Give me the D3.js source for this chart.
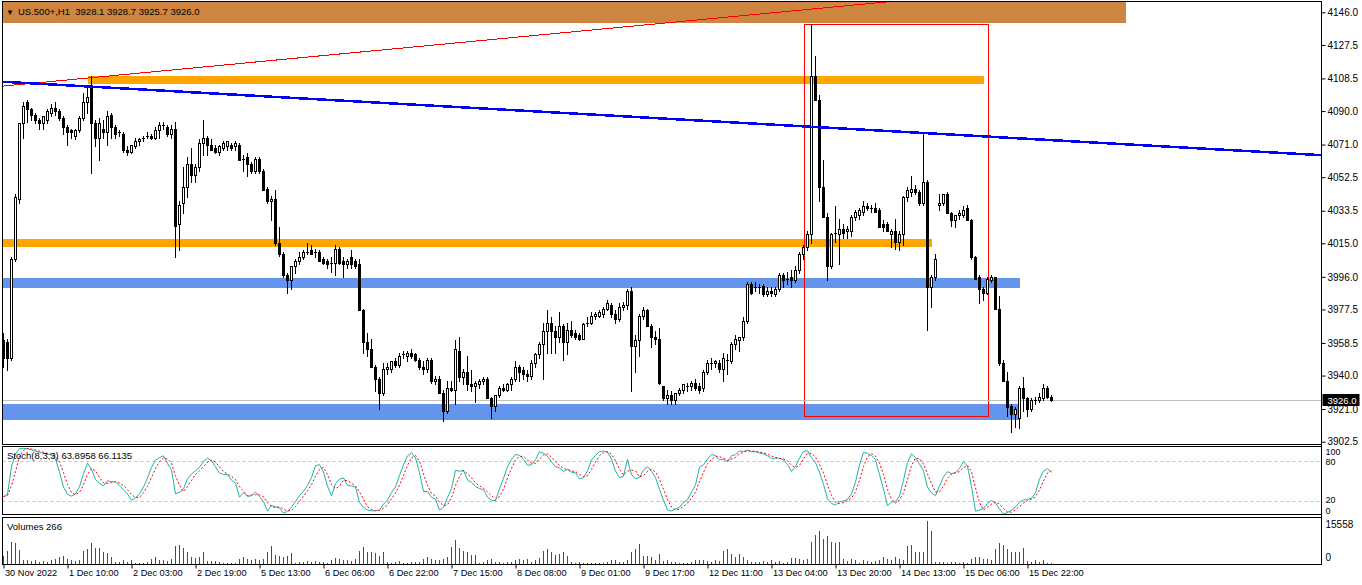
<!DOCTYPE html>
<html>
<head>
<meta charset="utf-8">
<script src="https://cdn.jsdelivr.net/npm/d3@7"></script>
<style>
html, body { margin: 0; padding: 0; background: #fff; overflow: hidden; }
svg { display: block; font-family: "Liberation Sans", Arial, sans-serif; font-size: 9.5px; }
</style>
</head>
<body>
<div id="chart"></div>
<script>
// ----- US.500+ H1, una candela per riga: [open, high, low, close]
var ohlc = [
  [3960,3964,3945,3950],[3959,3961,3943,3950],[3950,4007,3949,4006],[4006,4043,4005,4041],[4040,4083,4038,4083],[4083,4095,4075,4093],[4095,4096,4084,4091],[4091,4092,4085,4088],[4088,4089,4083,4085],[4085,4086,4080,4083],
  [4083,4087,4080,4087],[4085,4091,4083,4090],[4089,4094,4087,4092],[4092,4095,4088,4090],[4090,4091,4085,4086],[4086,4087,4077,4081],[4081,4082,4071,4078],[4079,4080,4075,4078],[4076,4080,4074,4079],[4079,4087,4078,4086],
  [4086,4100,4085,4095],[4095,4104,4089,4098],[4104,4110,4055,4083],[4083,4085,4070,4075],[4075,4086,4062,4083],[4080,4085,4075,4078],[4078,4090,4071,4087],[4088,4089,4075,4081],[4081,4082,4075,4077],[4078,4079,4076,4078],
  [4077,4078,4067,4068],[4068,4070,4065,4067],[4067,4071,4066,4071],[4070,4075,4069,4073],[4073,4075,4071,4074],[4074,4076,4073,4075],[4076,4078,4075,4076],[4076,4077,4074,4075],[4075,4081,4074,4079],[4079,4084,4075,4082],
  [4082,4084,4080,4082],[4081,4082,4076,4077],[4077,4082,4075,4080],[4080,4084,4007,4025],[4026,4039,4011,4037],[4038,4058,4032,4047],[4047,4064,4041,4060],[4060,4069,4050,4054],[4054,4060,4050,4058],[4058,4074,4056,4072],
  [4072,4085,4065,4075],[4075,4076,4065,4071],[4071,4074,4068,4068],[4069,4071,4066,4067],[4067,4071,4065,4070],[4069,4073,4068,4072],[4070,4073,4068,4073],[4071,4072,4068,4069],[4070,4073,4068,4072],[4071,4072,4062,4062],
  [4063,4065,4056,4062],[4064,4066,4053,4060],[4060,4061,4055,4056],[4056,4064,4055,4063],[4063,4064,4055,4056],[4056,4057,4045,4045],[4046,4047,4038,4039],[4039,4042,4028,4040],[4040,4045,4014,4015],[4015,4024,4008,4009],
  [4009,4010,3996,3997],[3997,3998,3987,3994],[3994,4002,3989,4002],[4002,4006,3998,4005],[4005,4010,4003,4007],[4007,4011,4006,4010],[4010,4015,4009,4010],[4011,4014,4009,4009],[4010,4012,4007,4010],[4010,4011,4005,4005],
  [4006,4007,4003,4004],[4005,4006,4001,4003],[4004,4007,3999,4004],[4004,4014,3997,4012],[4012,4013,4003,4004],[4005,4007,3996,4003],[4003,4006,4001,4005],[4007,4011,4001,4003],[4005,4006,4001,4002],[4003,4006,3977,3977],
  [3977,3978,3953,3959],[3959,3964,3951,3955],[3955,3961,3945,3945],[3945,3946,3931,3938],[3938,3939,3921,3930],[3930,3947,3929,3944],[3944,3947,3941,3945],[3944,3948,3942,3948],[3948,3950,3945,3946],[3946,3953,3945,3951],
  [3952,3954,3950,3952],[3951,3954,3948,3953],[3953,3955,3950,3951],[3952,3953,3948,3949],[3949,3950,3944,3945],[3945,3948,3941,3944],[3944,3950,3942,3949],[3949,3950,3936,3937],[3937,3940,3935,3938],[3938,3940,3930,3930],
  [3930,3932,3914,3920],[3920,3937,3919,3933],[3933,3937,3931,3932],[3932,3960,3924,3955],[3954,3962,3937,3939],[3939,3944,3935,3942],[3942,3951,3932,3935],[3935,3943,3931,3934],[3934,3937,3925,3936],[3935,3938,3933,3937],
  [3937,3939,3935,3938],[3938,3939,3927,3927],[3927,3928,3916,3923],[3923,3929,3920,3929],[3929,3934,3928,3933],[3933,3935,3931,3932],[3932,3936,3931,3935],[3935,3939,3932,3938],[3938,3948,3937,3945],[3945,3946,3937,3942],
  [3943,3945,3938,3941],[3941,3943,3937,3940],[3940,3949,3938,3947],[3947,3953,3945,3952],[3952,3959,3950,3958],[3958,3970,3938,3965],[3965,3977,3953,3970],[3970,3973,3953,3965],[3965,3968,3953,3962],[3962,3976,3959,3968],
  [3968,3969,3949,3959],[3959,3970,3952,3966],[3966,3971,3962,3963],[3964,3966,3961,3962],[3963,3964,3960,3961],[3961,3970,3961,3969],[3969,3973,3968,3970],[3970,3976,3969,3974],[3974,3976,3972,3975],[3974,3977,3973,3976],
  [3975,3979,3973,3978],[3978,3983,3977,3981],[3980,3981,3973,3975],[3975,3977,3970,3972],[3972,3981,3971,3979],[3979,3982,3977,3980],[3980,3989,3978,3988],[3988,3990,3931,3957],[3957,3963,3942,3960],[3960,3975,3951,3974],
  [3974,3979,3972,3977],[3977,3978,3968,3968],[3968,3969,3956,3962],[3962,3965,3958,3961],[3961,3967,3935,3936],[3934,3934,3926,3927],[3927,3932,3924,3929],[3929,3931,3924,3926],[3926,3930,3924,3930],[3930,3933,3929,3932],
  [3932,3935,3930,3935],[3934,3936,3931,3934],[3934,3937,3932,3936],[3936,3938,3932,3933],[3934,3936,3930,3932],[3933,3943,3931,3942],[3942,3949,3941,3947],[3947,3950,3944,3947],[3947,3949,3945,3948],[3947,3949,3942,3944],
  [3944,3953,3937,3950],[3949,3952,3941,3948],[3948,3959,3947,3958],[3958,3963,3955,3961],[3960,3962,3954,3962],[3962,3973,3960,3971],[3971,3993,3970,3992],[3992,3993,3986,3987],[3990,3993,3988,3990],[3990,3992,3987,3990],
  [3991,3992,3985,3986],[3986,3990,3985,3988],[3988,3990,3985,3987],[3986,3990,3985,3989],[3989,3998,3988,3997],[3997,3998,3990,3994],[3995,3999,3992,3994],[3996,4000,3990,3994],[3994,4002,3993,4000],[4000,4010,3998,4009],
  [4009,4014,4006,4013],[4013,4022,4011,4020],[4020,4139.3,4015,4110],[4110,4121,4096,4096],[4096,4099,4039,4047],[4047,4062,4030,4030],[4030,4032,3994,4002],[4002,4021,4001,4020],[4020,4036,4016,4021],[4020,4029,4003,4023],
  [4023,4026,4018,4021],[4022,4025,4018,4023],[4022,4031,4019,4030],[4030,4034,4028,4033],[4031,4035,4029,4034],[4033,4039,4031,4036],[4036,4038,4034,4035],[4035,4037,4033,4035],[4035,4038,4033,4033],[4034,4035,4024,4024],
  [4026,4028,4022,4024],[4026,4027,4022,4022],[4020,4023,4013,4022],[4022,4029,4012,4016],[4016,4022,4011,4020],[4020,4042,4014,4041],[4041,4047,4039,4045],[4044,4053,4042,4046],[4046,4048,4043,4044],[4044,4045,4037,4038],
  [4038,4078,4037,4050],[4050,4051,3966,3990],[3990,3997,3979,3996],[3996,4009,3994,4006],[4037,4043,4034,4038],[4038,4043,4037,4043],[4043,4044,4032,4032],[4032,4033,4025,4028],[4028,4031,4024,4031],[4031,4034,4029,4032],
  [4031,4036,4030,4034],[4035,4037,4028,4028],[4028,4029,4006,4007],[4007,4008,3995,3995],[3996,3997,3981,3989],[3989,3990,3983,3987],[3987,3996,3986,3995],[3994,3997,3993,3996],[3996,3996,3978,3978],[3978,3985,3946,3947],
  [3947,3949,3937,3937],[3937,3942,3917,3922],[3923,3924,3908,3918],[3918,3922,3911,3921],[3916,3934,3910,3933],[3933,3939,3920,3927],[3927,3928,3917,3921],[3921,3927,3920,3926],[3926,3928,3924,3926],[3926,3930,3925,3928],
  [3927,3935,3926,3933],[3933,3934,3927,3928],[3928.1,3928.7,3925.7,3926.0]
];

// ----- Volumi tick per barra
var volumes = [
  3040,4730,8100,7550,4960,1350,1350,1130,1350,790,
  1130,790,1350,1690,2480,3040,1920,1350,1130,1350,
  4730,5300,7550,5860,5640,4170,3830,2480,790,900,
  1350,790,1350,450,450,500,790,1920,2480,1350,
  1350,1130,1920,6420,7000,5900,4500,2700,2200,2700,
  4170,1130,1130,1000,790,450,450,450,450,1920,
  2700,1690,1580,1920,1350,1920,4500,6420,3380,3040,
  2480,3040,3830,450,790,790,1130,790,1130,790,
  790,450,1350,2250,1920,1580,1350,1130,1920,4730,
  6090,4170,4170,3830,3040,4500,790,450,790,1000,
  450,450,790,790,790,1690,2700,1690,1350,1350,
  1920,2480,6090,8680,5860,4730,4170,3380,3380,450,
  790,1580,1920,790,790,450,790,790,1350,1690,
  1350,1920,790,1350,2250,4730,5300,4170,3380,3600,
  4400,3040,790,450,560,450,200,230,450,450,
  450,790,1350,1350,790,790,1580,4500,5300,7330,
  3040,3040,2480,1580,3600,1130,1350,790,790,450,
  450,450,790,1350,1350,1350,1000,750,1350,1000,
  4660,5280,3560,2580,3440,2580,1350,750,750,750,
  1100,750,1350,750,1100,500,750,2200,2200,1950,
  1350,1950,7860,10560,11790,9090,9950,7860,7490,7860,
  1950,1000,1700,1350,500,1350,1000,750,1000,1350,
  2480,1920,1580,2480,1920,1350,6420,6760,4500,4170,
  4170,15558,12060,790,790,790,450,790,790,450,
  790,450,1920,2700,2480,1690,1920,1350,5300,7550,
  7000,5300,4500,4170,4170,5860,1130,790,1350,790,
  1350,450,266
];

// ----- Scala prezzi e asse tempo
var priceTicks = [4146.0, 4127.5, 4108.5, 4090.0, 4071.0, 4052.5, 4033.5, 4015.0, 3996.0, 3977.5, 3958.5, 3940.0, 3921.0, 3902.5];
var timeTickBars = [0, 16, 32, 48, 64, 80, 96, 112, 128, 144, 160, 176, 192, 208, 224, 240, 256];
var timeTickLabels = ["30 Nov 2022", "1 Dec 10:00", "2 Dec 03:00", "2 Dec 19:00", "5 Dec 13:00", "6 Dec 06:00", "6 Dec 22:00", "7 Dec 15:00", "8 Dec 08:00", "9 Dec 01:00", "9 Dec 17:00", "12 Dec 11:00", "13 Dec 04:00", "13 Dec 20:00", "14 Dec 13:00", "15 Dec 06:00", "15 Dec 22:00"];
var stochTicks = [100, 80, 20, 0];
var stochLevels = [80, 20];
var stochLabel = "Stoch(8,3,3) 63.8958 66.1135";

// ----- Oggetti disegnati sul grafico (barra, prezzo)
var headerBox = [[-5, 4165], [280.5, 4140.1]];
var orangeZones = [[[21, 4109.8], [245, 4105.1]], [[-5, 4017.7], [232, 4013.0]]];
var blueZones = [[[-5, 3995.2], [254, 3989.5]], [[-5, 3923.9], [254, 3914.8]]];
var redBox = [[200, 4139.3], [246, 3917.0]];
var blueTrend = [[0, 4106.6], [262, 4073.5]];
var redTrend = [[0, 4104.2], [200, 4147.4]];

var W = 1362, H = 585;
var L = 2.5, R = 1321.5;
var mainTop = 1.5, mainBot = 444.5, stTop = 446.5, stBot = 514.5, vTop = 517.5, vBot = 564.5;

var svg = d3.select('#chart').append('svg').attr('width', W).attr('height', H);

// ----- scale: 4 px per barra
var x = d3.scaleLinear().domain([0, 1]).range([3.5, 7.5]);
var y = d3.scaleLinear().domain([3902.5, 4146]).range([441.7, 12.3]);
var yS = d3.scaleLinear().domain([0, 100]).range([514.3, 447.7]);
var yV = d3.scaleLinear().domain([0, d3.max(volumes)]).range([564, 521]);

var defs = svg.append('defs');
[['clipMain', mainTop, mainBot], ['clipSt', stTop, stBot], ['clipVol', vTop, vBot]].forEach(function (c) {
    defs.append('clipPath').attr('id', c[0]).append('rect')
        .attr('x', L).attr('y', c[1]).attr('width', R - L).attr('height', c[2] - c[1]);
});

var main = svg.append('g').attr('clip-path', 'url(#clipMain)');

function box(g, b, fill, stroke) {
    var x0 = x(b[0][0]), x1 = x(b[1][0]);
    var y0 = Math.round(y(b[0][1])), y1 = Math.round(y(b[1][1]));
    return g.append('rect')
        .attr('x', Math.round(Math.min(x0, x1)) + (stroke ? 0.5 : 0))
        .attr('y', Math.min(y0, y1) + (stroke ? 0.5 : 0))
        .attr('width', Math.round(Math.abs(x1 - x0)))
        .attr('height', Math.abs(y1 - y0))
        .attr('fill', fill)
        .attr('stroke', stroke || 'none');
}

// ----- oggetti di sfondo
box(main, headerBox, '#CD853F');
orangeZones.forEach(function (z) { box(main, z, '#FFA500'); });
blueZones.forEach(function (z) { box(main, z, '#6495ED'); });
box(main, redBox, 'none', '#FF0000');

// ----- linea del prezzo corrente
var last = ohlc[ohlc.length - 1];
main.append('line')
    .attr('x1', L).attr('x2', R)
    .attr('y1', Math.round(y(last[3])) + 0.5).attr('y2', Math.round(y(last[3])) + 0.5)
    .attr('stroke', '#C0C0C0');

// ----- candele
var cg = main.append('g').attr('class', 'candles');
ohlc.forEach(function (d, i) {
    var cx = x(i);
    var yh = Math.round(y(d[1])), yl = Math.round(y(d[2]));
    var yo = Math.round(y(d[0])), yc = Math.round(y(d[3]));
    cg.append('line').attr('x1', cx).attr('x2', cx).attr('y1', yh).attr('y2', yl + 1)
        .attr('stroke', '#000');
    var top = Math.min(yo, yc), h = Math.abs(yo - yc);
    if (h < 2) {
        cg.append('rect').attr('x', cx - 1.5).attr('y', top).attr('width', 3).attr('height', Math.max(h, 1))
            .attr('fill', '#000');
    } else if (d[3] >= d[0]) {
        cg.append('rect').attr('x', cx - 1).attr('y', top + 0.5).attr('width', 2).attr('height', h)
            .attr('fill', '#fff').attr('stroke', '#000');
    } else {
        cg.append('rect').attr('x', cx - 1.5).attr('y', top).attr('width', 3).attr('height', h + 1)
            .attr('fill', '#000');
    }
});

// ----- trendline estese su tutto il grafico
function trend(t, color, width) {
    var slope = (t[1][1] - t[0][1]) / (t[1][0] - t[0][0]);
    var i0 = x.invert(L), i1 = x.invert(R);
    main.append('line')
        .attr('x1', L).attr('y1', y(t[0][1] + (i0 - t[0][0]) * slope))
        .attr('x2', R).attr('y2', y(t[0][1] + (i1 - t[0][0]) * slope))
        .attr('stroke', color).attr('stroke-width', width)
        .attr('shape-rendering', 'crispEdges');
}
trend(redTrend, '#FF0000', 1);
trend(blueTrend, '#0000FF', 2.5);

// ----- intestazione
svg.append('text').attr('x', 6).attr('y', 15).attr('font-size', '8px').text('\u25BC');
svg.append('text').attr('x', 18).attr('y', 15)
    .text('US.500+,H1  ' + last.map(function (v) { return v.toFixed(1); }).join(' '))
    .attr('xml:space', 'preserve').style('white-space', 'pre');

// ------------ STOCASTICO (8,3,3) ricavato dalle candele ------------
function stochastic(kP, slow, dP) {
    var k = ohlc.map(function (c, i) {
        var num = 0, den = 0;
        for (var j = Math.max(0, i - slow + 1); j <= i; j++) {
            var w = ohlc.slice(Math.max(0, j - kP + 1), j + 1);
            var hh = d3.max(w, function (e) { return e[1]; });
            var ll = d3.min(w, function (e) { return e[2]; });
            num += ohlc[j][3] - ll;
            den += hh - ll;
        }
        return den ? 100 * num / den : 50;
    });
    var d = k.map(function (v, i) { return d3.mean(k.slice(Math.max(0, i - dP + 1), i + 1)); });
    return { k: k, d: d };
}
var st = stochastic(8, 3, 3);

var sg = svg.append('g').attr('clip-path', 'url(#clipSt)');
stochLevels.forEach(function (lv) {
    sg.append('line').attr('x1', L).attr('x2', R)
        .attr('y1', Math.round(yS(lv)) + 0.5).attr('y2', Math.round(yS(lv)) + 0.5)
        .attr('stroke', '#C0C0C0').attr('stroke-dasharray', '3,3');
});
var sLine = d3.line().x(function (d, i) { return x(i); }).y(function (d) { return yS(d); });
sg.append('path').attr('d', sLine(st.k)).attr('fill', 'none').attr('stroke', '#20B2AA').attr('stroke-width', 1);
sg.append('path').attr('d', sLine(st.d)).attr('fill', 'none').attr('stroke', '#FF0000').attr('stroke-width', 1)
    .attr('stroke-dasharray', '2,2');
svg.append('text').attr('x', 7).attr('y', 459).text(stochLabel);

// ------------ VOLUMI ------------
var vg = svg.append('g').attr('clip-path', 'url(#clipVol)');
volumes.forEach(function (v, i) {
    var up = i === 0 || v > volumes[i - 1];
    vg.append('line').attr('x1', x(i)).attr('x2', x(i))
        .attr('y1', yV(0)).attr('y2', Math.round(yV(v)))
        .attr('stroke', up ? '#008000' : '#FF0000');
});
svg.append('text').attr('x', 7).attr('y', 530).text('Volumes ' + volumes[volumes.length - 1]);

// ------------ CORNICI ------------
[[mainTop, mainBot], [stTop, stBot], [vTop, vBot]].forEach(function (p) {
    svg.append('rect').attr('x', L).attr('y', p[0]).attr('width', R - L).attr('height', p[1] - p[0])
        .attr('fill', 'none').attr('stroke', '#000');
});

// ------------ ASSI ------------
var ay = svg.append('g').attr('transform', 'translate(' + R + ',0)')
    .call(d3.axisRight(y).tickValues(priceTicks).tickFormat(d3.format('.1f')).tickSize(4).tickPadding(2));
ay.select('.domain').remove();
ay.selectAll('text').attr('font-family', null).attr('font-size', null);

// etichetta prezzo corrente
var lp = svg.append('g').attr('transform', 'translate(' + (R + 1) + ',' + Math.round(y(last[3])) + ')');
lp.append('rect').attr('x', 0).attr('y', -6).attr('width', 37).attr('height', 12).attr('fill', '#000');
lp.append('text').attr('x', 5).attr('y', 3.5).attr('fill', '#fff').text(last[3].toFixed(1));

// etichette sottofinestre: 100/0 spostate dentro il riquadro come in MT4
var stShift = { 100: 4, 80: 1, 20: -1, 0: -4 };
var as = svg.append('g').attr('transform', 'translate(' + R + ',0)')
    .call(d3.axisRight(yS).tickValues(stochTicks).tickFormat(d3.format('d')).tickSize(0).tickPadding(4));
as.select('.domain').remove();
as.selectAll('text').attr('font-family', null).attr('font-size', '9px')
    .attr('y', function (d) { return stShift[d]; });

var av = svg.append('g').attr('transform', 'translate(' + R + ',0)')
    .call(d3.axisRight(yV).tickValues([0, d3.max(volumes)]).tickFormat(d3.format('d')).tickSize(0).tickPadding(4));
av.select('.domain').remove();
av.selectAll('text').attr('font-family', null).attr('font-size', null)
    .attr('dy', function (d) { return d === 0 ? '-0.4em' : '0.6em'; });

var ax = svg.append('g').attr('transform', 'translate(0,' + vBot + ')')
    .call(d3.axisBottom(x).tickValues(timeTickBars)
        .tickFormat(function (d, i) { return timeTickLabels[i]; }).tickSize(4).tickPadding(1));
ax.select('.domain').remove();
ax.selectAll('text').attr('font-family', null).attr('font-size', '9.2px')
    .attr('text-anchor', 'start').attr('dx', '1');

// asse verticale destro
svg.append('line').attr('x1', R).attr('x2', R).attr('y1', mainTop).attr('y2', vBot).attr('stroke', '#000');
</script>
</body>
</html>
